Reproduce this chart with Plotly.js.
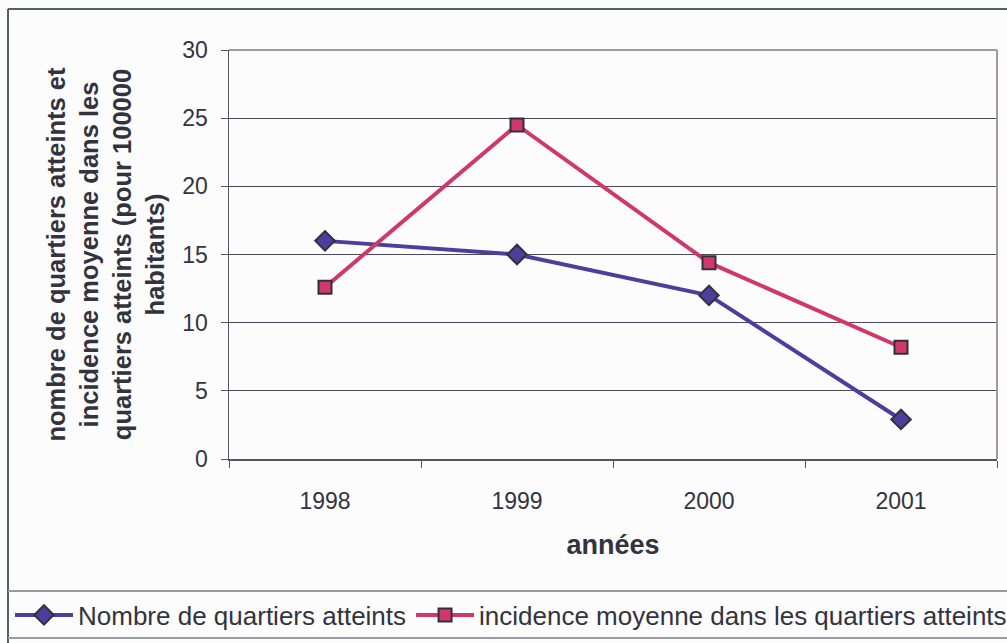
<!DOCTYPE html>
<html>
<head>
<meta charset="utf-8">
<script src="https://cdn.plot.ly/plotly-3.0.1.min.js"></script>
<style>html,body{margin:0;padding:0;background:#fcfcfc;}#chart{width:1007px;height:643px;}</style>
</head>
<body>
<div id="chart"></div>
<script>
var years = ['1998', '1999', '2000', '2001'];
var nombreQuartiers = [16, 15, 12, 2.9];
var incidenceMoyenne = [12.6, 24.5, 14.4, 8.2];
var yTicks = [0, 5, 10, 15, 20, 25, 30];

var fontFam = 'Liberation Sans, Arial, sans-serif';
var textCol = '#33333f';

var traces = [
  {
    x: years, y: nombreQuartiers, type: 'scatter', mode: 'lines+markers',
    name: 'Nombre de quartiers atteints',
    line: {color: '#4e3d9c', width: 4},
    marker: {symbol: 'diamond', size: 15, color: '#4e3d9c', line: {color: '#30303e', width: 2}}
  },
  {
    x: years, y: incidenceMoyenne, type: 'scatter', mode: 'lines+markers',
    name: 'incidence moyenne dans les quartiers atteints',
    line: {color: '#d1386a', width: 4},
    marker: {symbol: 'square', size: 13, color: '#d1386a', line: {color: '#30303e', width: 2}}
  }
];

function px2x(p){ return (p - 229) / 768; }
function py2y(p){ return (459 - p) / 409; }

var layout = {
  width: 1007, height: 643,
  margin: {l: 229, r: 10, t: 50, b: 184, autoexpand: false},
  paper_bgcolor: '#fcfcfc', plot_bgcolor: '#fcfcfc',
  font: {family: fontFam, color: textCol, size: 23},
  showlegend: true,
  legend: {
    orientation: 'h', x: px2x(10), xanchor: 'left', y: py2y(615), yanchor: 'middle',
    font: {family: fontFam, size: 26, color: textCol}, bgcolor: 'rgba(0,0,0,0)',
    itemwidth: 58, tracegroupgap: 0
  },
  xaxis: {
    type: 'category', tickson: 'boundaries', ticks: 'outside', ticklen: 7, tickcolor: '#55555f',
    showgrid: false, showline: true, linecolor: '#55555f', linewidth: 1.5, mirror: false,
    tickfont: {family: fontFam, size: 23, color: textCol}, ticklabelstandoff: 21,
    title: {text: '<b>années</b>', font: {family: fontFam, size: 27, color: textCol}, standoff: 22},
    range: [-0.5, 3.5], fixedrange: true
  },
  yaxis: {
    range: [0, 30], tickvals: yTicks, ticks: 'outside', ticklen: 7, tickcolor: '#55555f',
    showgrid: true, gridcolor: '#4a4a5a', gridwidth: 1.2,
    showline: true, linecolor: '#55555f', linewidth: 1.5, zeroline: false,
    tickfont: {family: fontFam, size: 23, color: textCol}, ticklabelstandoff: 8,
    title: {text: '<b>nombre de quartiers atteints et<br>incidence moyenne dans les<br>quartiers atteints (pour 100000<br>habitants)</b>',
            font: {family: fontFam, size: 25.5, color: textCol}, standoff: 10},
    fixedrange: true
  },
  shapes: [
    {type: 'line', xref: 'paper', yref: 'paper', x0: 0, x1: 1, y0: 1, y1: 1, line: {color: '#a09a9a', width: 2}},
    {type: 'line', xref: 'paper', yref: 'paper', x0: 1, x1: 1, y0: 0, y1: 1, line: {color: '#a09a9a', width: 2}},
    {type: 'line', xref: 'paper', yref: 'paper', x0: px2x(8), x1: px2x(1010), y0: py2y(9), y1: py2y(9), line: {color: '#5a5e6a', width: 2}},
    {type: 'line', xref: 'paper', yref: 'paper', x0: px2x(8), x1: px2x(8), y0: py2y(9), y1: py2y(645), line: {color: '#5a5e6a', width: 2}},
    {type: 'line', xref: 'paper', yref: 'paper', x0: px2x(8), x1: px2x(1010), y0: py2y(591), y1: py2y(591), line: {color: '#9a9aa2', width: 2}},
    {type: 'line', xref: 'paper', yref: 'paper', x0: px2x(8), x1: px2x(1010), y0: py2y(638), y1: py2y(638), line: {color: '#9a9aa2', width: 2}}
  ]
};

Plotly.newPlot('chart', traces, layout, {displayModeBar: false, staticPlot: true});
</script>
</body>
</html>
